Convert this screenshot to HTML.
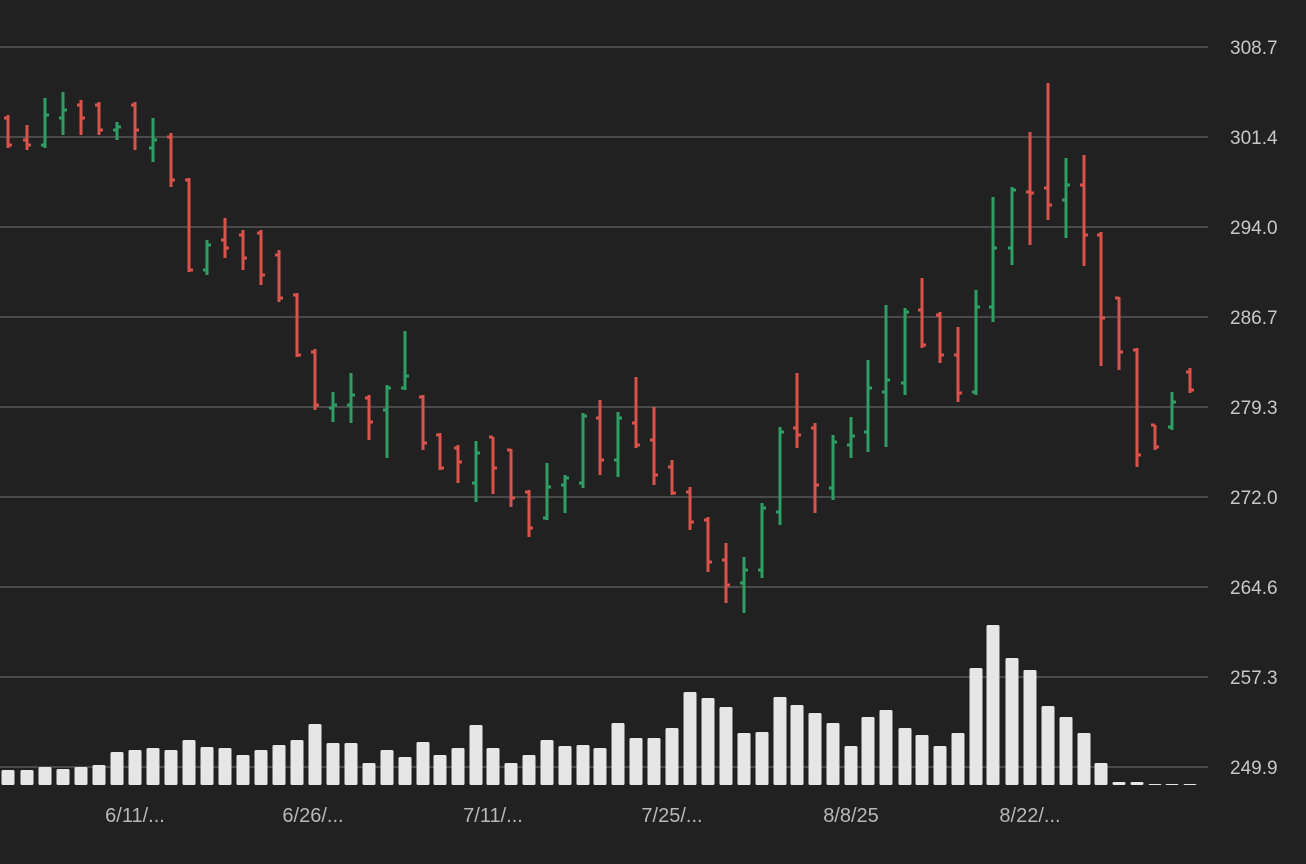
<!DOCTYPE html>
<html><head><meta charset="utf-8"><style>
html,body{margin:0;padding:0;background:#212121;}
svg{display:block}
text{font-family:"Liberation Sans","DejaVu Sans",sans-serif;}
</style></head><body>
<svg id="c" width="1306" height="864" viewBox="0 0 1306 864" xmlns="http://www.w3.org/2000/svg">
<rect width="1306" height="864" fill="#212121"/>
<g stroke="#4a4a4a" stroke-width="2">
<line x1="0" y1="47" x2="1208" y2="47"/><line x1="0" y1="137" x2="1208" y2="137"/>
<line x1="0" y1="227" x2="1208" y2="227"/><line x1="0" y1="317" x2="1208" y2="317"/>
<line x1="0" y1="407" x2="1208" y2="407"/><line x1="0" y1="497" x2="1208" y2="497"/>
<line x1="0" y1="587" x2="1208" y2="587"/><line x1="0" y1="677" x2="1208" y2="677"/>
<line x1="0" y1="767" x2="1208" y2="767"/>
</g>
<g fill="#c8c8c8" font-size="19">
<text x="1230" y="54">308.7</text><text x="1230" y="144">301.4</text>
<text x="1230" y="234">294.0</text><text x="1230" y="324">286.7</text>
<text x="1230" y="414">279.3</text><text x="1230" y="504">272.0</text>
<text x="1230" y="594">264.6</text><text x="1230" y="684">257.3</text>
<text x="1230" y="774">249.9</text>
</g>
<g fill="#b8b8b8" font-size="20" text-anchor="middle">
<text x="135" y="822">6/11/...</text><text x="313" y="822">6/26/...</text>
<text x="493" y="822">7/11/...</text><text x="672" y="822">7/25/...</text>
<text x="851" y="822">8/8/25</text><text x="1030" y="822">8/22/...</text>
</g>
<g id="vol" fill="#e6e6e6"></g>
<g id="bars" stroke-width="3"></g>
</svg>
<script>
var B=[[8,115,148,118,145],[27,125,150,140,145],[45,98,148,145,115],[63,92,135,118,110],[81,100,135,105,118],[99,102,135,105,130],[117,122,140,130,127],[135,102,150,105,130],[153,118,162,148,140],[171,133,187,137,180],[189,178,272,180,270],[207,240,275,270,245],[225,218,258,240,248],[243,230,270,235,258],[261,230,285,233,275],[279,250,302,255,298],[297,293,357,295,355],[315,349,410,352,405],[333,392,422,408,405],[351,373,423,405,395],[369,395,440,398,422],[387,385,458,410,388],[405,331,390,388,376],[423,395,450,397,443],[440,433,470,435,468],[458,445,483,448,462],[476,441,502,483,453],[493,437,494,437,468],[511,449,507,450,498],[529,490,537,492,528],[547,463,520,518,487],[565,475,513,485,478],[583,413,488,483,416],[600,400,475,418,460],[618,412,477,460,418],[636,377,448,423,445],[654,407,485,440,475],[672,460,495,467,493],[690,487,530,492,522],[708,517,572,520,562],[726,543,603,560,585],[744,557,613,583,570],[762,503,578,570,508],[780,427,525,512,432],[797,373,448,428,435],[815,423,513,428,485],[833,435,500,488,442],[851,417,458,445,436],[868,360,452,432,388],[886,305,447,392,380],[905,308,395,383,312],[922,278,348,310,345],[940,312,363,315,355],[958,327,402,355,393],[976,290,395,392,307],[993,197,322,307,248],[1012,187,265,248,190],[1030,132,245,192,193],[1048,83,220,188,205],[1066,158,238,200,185],[1084,155,266,185,235],[1101,232,366,235,318],[1119,297,370,298,352],[1137,348,467,350,455],[1155,425,450,425,447],[1172,392,430,427,402],[1190,368,393,372,390]];
var V=[770,770,767,769,767,765,752,750,748,750,740,747,748,755,750,745,740,724,743,743,763,750,757,742,755,748,725,748,763,755,740,746,745,748,723,738,738,728,692,698,707,733,732,697,705,713,723,746,717,710,728,735,746,733,668,625,658,670,706,717,733,763,782,782,784,784,784];
var ns="http://www.w3.org/2000/svg",g=document.getElementById('bars'),vg=document.getElementById('vol');
function L(p,a,b,c,d,col){var l=document.createElementNS(ns,'line');l.setAttribute('x1',a);l.setAttribute('y1',b);l.setAttribute('x2',c);l.setAttribute('y2',d);l.setAttribute('stroke',col);p.appendChild(l);}
B.forEach(function(b,i){var up=b[4]<b[3];var col=up?'#2e9e64':'#d9534a';
L(g,b[0],b[1],b[0],b[2],col);L(g,b[0]-4,b[3],b[0],b[3],col);L(g,b[0],b[4],b[0]+4,b[4],col);
var r=document.createElementNS(ns,'rect');r.setAttribute('x',b[0]-6.5);r.setAttribute('y',V[i]);r.setAttribute('width',13);r.setAttribute('height',Math.max(1,785-V[i]));r.setAttribute('rx',1.5);vg.appendChild(r);});
</script>
</body></html>
